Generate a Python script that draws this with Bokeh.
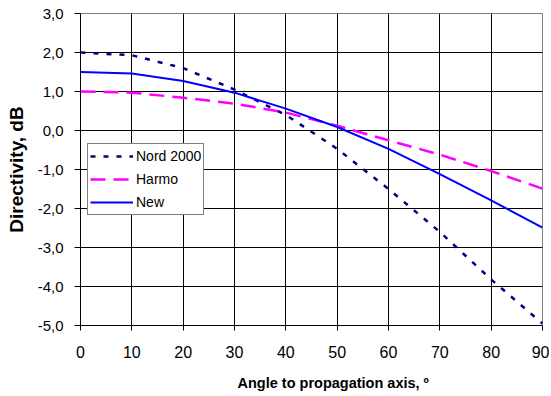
from bokeh.plotting import figure
from bokeh.models import Range1d, FixedTicker, Legend, LegendItem, Title
from bokeh.embed import file_html
from bokeh.resources import INLINE

angles = [0, 10, 20, 30, 40, 50, 60, 70, 80, 90]
nord2000 = [2.0, 1.93, 1.6, 1.05, 0.4, -0.47, -1.5, -2.6, -3.82, -4.95]
harmo = [1.0, 0.97, 0.84, 0.69, 0.46, 0.12, -0.25, -0.62, -1.04, -1.49]
new = [1.5, 1.46, 1.27, 0.97, 0.56, 0.09, -0.47, -1.12, -1.79, -2.49]

x_ticks = [0, 10, 20, 30, 40, 50, 60, 70, 80, 90]
y_ticks = [-5, -4, -3, -2, -1, 0, 1, 2, 3]
y_tick_labels = ["-5,0", "-4,0", "-3,0", "-2,0", "-1,0", "0,0", "1,0", "2,0", "3,0"]
x_title = "Angle to propagation axis, º"
y_title = "Directivity, dB"

FONT = "Liberation Sans"

p = figure(width=549, height=395, output_backend="svg", toolbar_location=None,
           x_range=Range1d(0, 90), y_range=Range1d(-5, 3),
           min_border_left=80, min_border_right=7, min_border_top=13, min_border_bottom=67)

p.background_fill_color = "white"
p.border_fill_color = "white"
p.outline_line_color = "#808080"
p.outline_line_width = 1

# grids
p.xgrid.ticker = FixedTicker(ticks=x_ticks)
p.ygrid.ticker = FixedTicker(ticks=y_ticks)
for g in (p.xgrid, p.ygrid):
    g.grid_line_color = "black"
    g.grid_line_width = 1

# axes
p.xaxis.ticker = FixedTicker(ticks=x_ticks)
p.yaxis.ticker = FixedTicker(ticks=y_ticks)
p.yaxis.major_label_overrides = {v: s for v, s in zip(y_ticks, y_tick_labels)}
for ax in (p.xaxis, p.yaxis):
    ax.axis_line_color = "black"
    ax.axis_line_width = 1
    ax.major_tick_line_color = "black"
    ax.major_tick_in = 0
    ax.minor_tick_line_color = None
    ax.major_label_text_font = FONT
    ax.major_label_text_color = "black"
    ax.axis_label_text_font = FONT
    ax.axis_label_text_font_style = "bold"
    ax.axis_label_text_color = "black"

p.yaxis.major_tick_out = 6
p.yaxis.major_label_standoff = 11
p.yaxis.major_label_text_font_size = "15px"
p.yaxis.axis_label = y_title
p.yaxis.axis_label_text_font_size = "19px"
p.yaxis.axis_label_standoff = 8

p.xaxis.major_tick_out = 5
p.xaxis.major_label_standoff = 15
p.xaxis.major_label_text_font_size = "16px"

# small empty spacer row between tick labels and the x title
spacer = Title(text=" ", text_font=FONT, text_font_size="4px", align="left", standoff=0)
p.add_layout(spacer, "below")
xtitle = Title(text=x_title, align="left", offset=157,
               text_font=FONT, text_font_size="14.5px", text_font_style="bold",
               text_color="black")
p.add_layout(xtitle, "below")

r1 = p.line(angles, nord2000, line_color="#000080", line_width=2.5, line_dash="5 8")
r2 = p.line(angles, harmo, line_color="#FF00FF", line_width=2.5, line_dash="15 8")
r3 = p.line(angles, new, line_color="#0000FF", line_width=2)

legend = Legend(items=[LegendItem(label="Nord 2000", renderers=[r1]),
                       LegendItem(label="Harmo", renderers=[r2]),
                       LegendItem(label="New", renderers=[r3])],
                location=(7, 110))
legend.border_line_color = "black"
legend.border_line_width = 1
legend.background_fill_color = "white"
legend.background_fill_alpha = 1
legend.label_text_font = FONT
legend.label_text_font_size = "14px"
legend.label_text_color = "black"
legend.glyph_width = 43
legend.glyph_height = 20
legend.label_height = 20
legend.label_standoff = 3
legend.spacing = 3
legend.padding = 2
legend.margin = 0
p.add_layout(legend, "center")

open("out.html", "w").write(file_html(p, INLINE))
